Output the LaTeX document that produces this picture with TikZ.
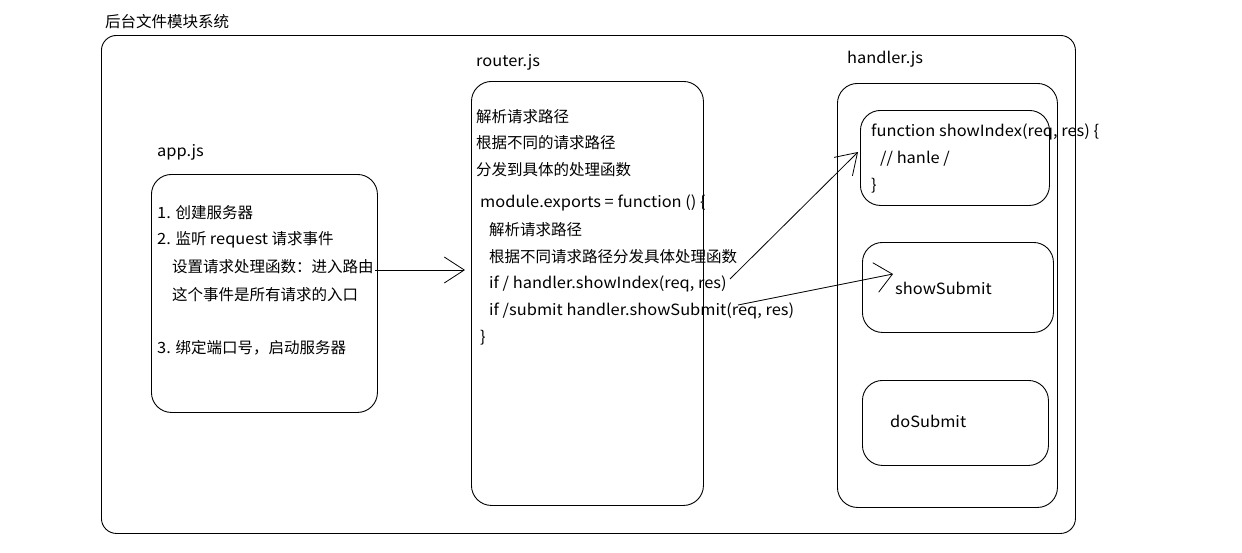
\documentclass[tikz,border=0pt]{standalone}
\usepackage{fontspec}
\setmainfont{Noto Sans CJK SC}
\newfontfamily\latfont{Noto Sans CJK SC}[FakeStretch=1.06]
\usetikzlibrary{arrows.meta}
\begin{document}
\begin{tikzpicture}[x=1pt,y=-1pt,
  font=\fontsize{15.5}{18}\selectfont,
  box/.style={draw, line width=0.9pt, rounded corners=20pt, anchor=north west, inner sep=0pt},
  txt/.style={anchor=west, inner sep=0pt},
  lat/.style={txt, font=\fontsize{15.5}{18}\latfont},
  conn/.style={line width=0.8pt},
  bigtip/.style={-{Straight Barb[length=20pt, width=26pt, line width=0.8pt]}},
  midtip/.style={-{Straight Barb[length=17pt, width=30pt, line width=0.8pt]}}]
\useasboundingbox (0,0) rectangle (1242,552);
% frames
\node[txt] (title) at (105,22) {后台文件模块系统};
\node[box, rounded corners=15pt, minimum width=974pt, minimum height=498pt] (sys) at (101,35) {};
% app.js
\node[lat] (applbl) at (157,152) {app.js};
\node[box, minimum width=226pt, minimum height=238pt] (app) at (151,174) {};
\node[txt] (a1) at (157,213) {{\latfont 1.} 创建服务器};
\node[txt] (a2) at (157,240) {{\latfont 2.} 监听 {\latfont request} 请求事件};
\node[txt] (a3) at (172,267) {设置请求处理函数：进入路由};
\node[txt] (a4) at (172,295) {这个事件是所有请求的入口};
\node[txt] (a5) at (157,348) {{\latfont 3.} 绑定端口号，启动服务器};
% router.js
\node[lat] (rlbl) at (476,62) {router.js};
\node[box, minimum width=232pt, minimum height=424pt] (router) at (471,81) {};
\node[txt] (r1) at (476,117) {解析请求路径};
\node[txt] (r2) at (476,143) {根据不同的请求路径};
\node[txt] (r3) at (476,170) {分发到具体的处理函数};
\node[lat] (r4) at (480,203) {module.exports = function () \{};
\node[txt] (r5) at (489,230) {解析请求路径};
\node[txt] (r6) at (489,257) {根据不同请求路径分发具体处理函数};
\node[lat] (r7) at (489,284) {if / handler.showIndex(req, res)};
\node[lat] (r8) at (489,311) {if /submit handler.showSubmit(req, res)};
\node[lat] (r9) at (480,338) {\}};
% handler.js
\node[lat] (hlbl) at (847,59) {handler.js};
\node[box, minimum width=220pt, minimum height=424pt] (handler) at (837,83) {};
\node[box, minimum width=189pt, minimum height=95pt] (showidx) at (860,110) {};
\node[lat] (h1) at (871,132) {function showIndex(req, res) \{};
\node[lat] (h2) at (880,159) {// hanle /};
\node[lat] (h3) at (871,186) {\}};
\node[box, minimum width=191pt, minimum height=90pt] (showsub) at (862,242) {};
\node[lat] (h4) at (895,288) {showSubmit};
\node[box, minimum width=186pt, minimum height=85pt] (dosub) at (862,380) {};
\node[lat] (h5) at (890,421) {doSubmit};
% connectors
\coordinate (s0) at (375,270);
\coordinate (t0) at (465,270);
\coordinate (s1) at (730,279);
\coordinate (t1) at (858,152);
\coordinate (s2) at (738,305);
\coordinate (t2) at (893,274);
\draw[conn, bigtip] (s0) -- (t0);
\draw[conn, bigtip] (s1) -- (t1);
\draw[conn, midtip] (s2) -- (t2);
\end{tikzpicture}
\end{document}
